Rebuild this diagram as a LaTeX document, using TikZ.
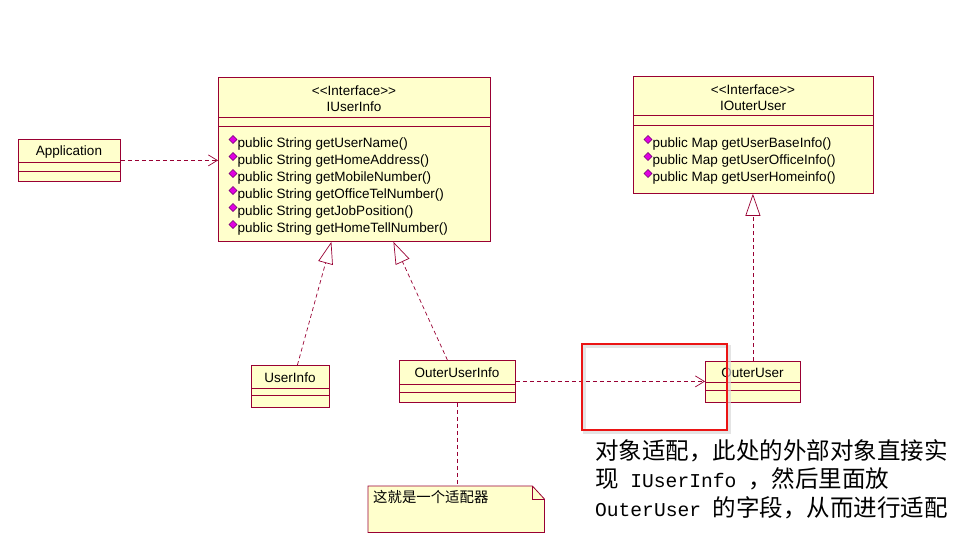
\documentclass[tikz,border=0pt]{standalone}
\usepackage{fontspec}
\setmainfont{Liberation Sans}
\newfontfamily\cjk{Noto Sans CJK SC}
\newfontfamily\monofont{Liberation Mono}
\usetikzlibrary{arrows.meta}
\definecolor{umlborder}{RGB}{153,0,51}
\definecolor{umlfill}{RGB}{255,255,204}
\definecolor{diafill}{RGB}{225,0,225}
\definecolor{diaedge}{RGB}{110,0,110}
\definecolor{markred}{RGB}{235,20,20}
\newcommand{\mn}[1]{{\monofont\fontsize{19.6}{24}\selectfont #1}}
\newcommand{\stereo}{\mbox{<}\mbox{<}Interface\mbox{>}\mbox{>}}
\begin{document}
\begin{tikzpicture}[x=1pt,y=-1pt,
  classbox/.style={draw=umlborder, fill=umlfill, line width=0.8pt, inner sep=0pt, anchor=north west},
  sepline/.style={draw=umlborder, line width=0.8pt},
  umltext/.style={font=\fontsize{13.5}{15}\selectfont, inner sep=0pt},
  optext/.style={font=\fontsize{13.5}{15}\selectfont, inner sep=0pt, anchor=west},
  opmark/.style={fill=diafill, draw=diaedge, line width=0.4pt},
  dep/.style={draw=umlborder, line width=0.7pt, dash pattern=on 4pt off 3pt, -{Straight Barb[length=9pt,width=11pt]}},
  real/.style={draw=umlborder, line width=0.7pt, dash pattern=on 4pt off 3pt, -{Triangle[open,length=22pt,width=15pt]}},
  link/.style={draw=umlborder, line width=0.7pt, dash pattern=on 4pt off 3pt},
  bigtext/.style={font=\cjk\fontsize{23.5}{28.5}\selectfont, inner sep=0pt, anchor=base west}
]
\fill[white] (0,0) rectangle (977,549);
\useasboundingbox (0,0) rectangle (977,549);

% Application
\node[classbox, minimum width=102pt, minimum height=42pt] (app) at (18,139) {};
\draw[sepline] (app.west |- 0,162) -- (app.east |- 0,162);
\draw[sepline] (app.west |- 0,171) -- (app.east |- 0,171);
\node[umltext] (appname) at (69,152) {Application};

% IUserInfo
\node[classbox, minimum width=272pt, minimum height=164pt] (iuser) at (218,77) {};
\draw[sepline] (iuser.west |- 0,117) -- (iuser.east |- 0,117);
\draw[sepline] (iuser.west |- 0,126) -- (iuser.east |- 0,126);
\node[umltext] (iuserst) at (354,91) {\stereo};
\node[umltext] (iusername) at (354,107) {IUserInfo};
\foreach \i/\yy/\t in {1/144/public String getUserName(),
                       2/161/public String getHomeAddress(),
                       3/178/public String getMobileNumber(),
                       4/195/public String getOfficeTelNumber(),
                       5/212/public String getJobPosition(),
                       6/229/public String getHomeTellNumber()}{
  \path[opmark] (233,\yy-8.5) -- (237,\yy-4.5) -- (233,\yy-0.5) -- (229,\yy-4.5) -- cycle;
  \node[optext] (uop\i) at (237.5,\yy) {\t};
}

% IOuterUser
\node[classbox, minimum width=240pt, minimum height=117pt] (iouter) at (633,76) {};
\draw[sepline] (iouter.west |- 0,115) -- (iouter.east |- 0,115);
\draw[sepline] (iouter.west |- 0,125) -- (iouter.east |- 0,125);
\node[umltext] (iouterst) at (753,90) {\stereo};
\node[umltext] (ioutername) at (753,106) {IOuterUser};
\foreach \i/\yy/\t in {1/144/public Map getUserBaseInfo(),
                       2/161/public Map getUserOfficeInfo(),
                       3/178/public Map getUserHomeinfo()}{
  \path[opmark] (648,\yy-8.5) -- (652,\yy-4.5) -- (648,\yy-0.5) -- (644,\yy-4.5) -- cycle;
  \node[optext] (oop\i) at (652.5,\yy) {\t};
}

% UserInfo
\node[classbox, minimum width=78pt, minimum height=42pt] (uinfo) at (251,365) {};
\draw[sepline] (uinfo.west |- 0,388) -- (uinfo.east |- 0,388);
\draw[sepline] (uinfo.west |- 0,395) -- (uinfo.east |- 0,395);
\node[umltext] (uinfoname) at (290,378) {UserInfo};

% OuterUserInfo
\node[classbox, minimum width=116pt, minimum height=42pt] (oui) at (399,360) {};
\draw[sepline] (oui.west |- 0,384) -- (oui.east |- 0,384);
\draw[sepline] (oui.west |- 0,392) -- (oui.east |- 0,392);
\node[umltext] (ouiname) at (457,373) {OuterUserInfo};

% OuterUser
\node[classbox, minimum width=95pt, minimum height=41pt] (ou) at (705,361) {};
\draw[sepline] (ou.west |- 0,382) -- (ou.east |- 0,382);
\draw[sepline] (ou.west |- 0,390) -- (ou.east |- 0,390);
\node[umltext] (ouname) at (752.5,373) {OuterUser};

% Note
\node[inner sep=0pt, minimum width=176pt, minimum height=46pt, anchor=north west] (note) at (368,486) {};
\filldraw[draw=umlborder, fill=umlfill, line width=0.8pt]
  (note.north west) -- ([xshift=-12pt]note.north east) -- ([yshift=-13pt]note.north east)
  -- (note.south east) -- (note.south west) -- cycle;
\draw[sepline] ([xshift=-12pt]note.north east) -- ([xshift=-12pt,yshift=-13pt]note.north east)
  -- ([yshift=-13pt]note.north east);
\node[font=\cjk\fontsize{14.4}{16}\selectfont, anchor=west, inner sep=0pt] (notetext) at (373,497) {这就是一个适配器};

% Connectors
\draw[dep] (app.east) -- (app.east -| iuser.west);
\draw[real] ([xshift=7pt]uinfo.north) -- ([xshift=-23pt]iuser.south);
\draw[real] ([xshift=-10pt]oui.north) -- ([xshift=39pt]iuser.south);
\draw[real] (ou.north) -- (ou.north |- iouter.south);
\draw[dep] (oui.east) -- (oui.east -| ou.west);
\draw[link] (oui.south) -- (oui.south |- note.north);

% Highlight
\draw[gray!30, line width=3.5pt, opacity=0.7] (584.5,346.5) rectangle (729.5,432.5);
\node[draw=markred, line width=2.2pt, minimum width=145pt, minimum height=86pt, inner sep=0pt, anchor=north west] (hl) at (581,343) {};

% Comment text
\node[bigtext] (c1) at (595,459) {对象适配，此处的外部对象直接实};
\node[bigtext] (c2) at (595,487) {现\mn{ IUserInfo }，然后里面放};
\node[bigtext] (c3) at (595,516) {\mn{OuterUser }的字段，从而进行适配};
\end{tikzpicture}
\end{document}
